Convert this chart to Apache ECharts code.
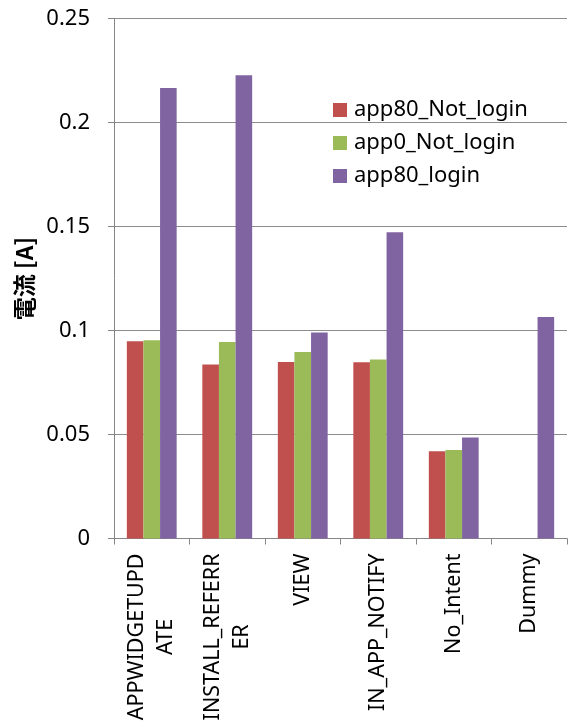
<!DOCTYPE html>
<html><head><meta charset="utf-8">
<script src="https://cdn.jsdelivr.net/npm/echarts@6/dist/echarts.min.js"></script>
<style>html,body{margin:0;padding:0;background:#fff}#c{width:568px;height:727px}</style>
</head><body><div id="c"></div>
<script>
const categories = ['APPWIDGETUPD\nATE', 'INSTALL_REFERR\nER', 'VIEW', 'IN_APP_NOTIFY', 'No_Intent', 'Dummy'];
const seriesNames = ['app80_Not_login', 'app0_Not_login', 'app80_login'];
const app80NotLogin = [0.0948, 0.0837, 0.0849, 0.0847, 0.0419, null];
const app0NotLogin = [0.0953, 0.0945, 0.0897, 0.0860, 0.0425, null];
const app80Login = [0.2166, 0.2227, 0.0990, 0.1472, 0.0485, 0.1065];
const yTicks = { min: 0, max: 0.25, interval: 0.05 };
const colors = ['#C0504D', '#9BBB59', '#8064A2'];

const font = 'Noto Sans';
const chart = echarts.init(document.getElementById('c'), null, { renderer: 'canvas' });
const mk = (name, data, color) => ({
  name, type: 'bar', data, barGap: '0%', barCategoryGap: '34%',
  itemStyle: { color }, emphasis: { disabled: true }
});
chart.setOption({
  animation: false,
  color: colors,
  grid: { left: 114, right: 1, top: 18.5, bottom: 188.5, containLabel: false },
  legend: {
    orient: 'vertical', left: 328, top: 94, itemWidth: 14, itemHeight: 14, itemGap: 11,
    icon: 'rect',
    textStyle: { fontFamily: font, fontSize: 22, lineHeight: 22, color: '#000', padding: [0, 0, 0, 2] },
    data: seriesNames
  },
  xAxis: {
    type: 'category', data: categories,
    axisLine: { lineStyle: { color: '#868686', width: 1 } },
    axisTick: { show: true, length: 6, lineStyle: { color: '#868686' } },
    axisLabel: {
      rotate: 90, margin: 15, interval: 0, color: '#000',
      formatter: v => v.split('\n').map(s => '{c|' + s + '}').join('\n'),
      rich: { c: { align: 'center', fontFamily: font, fontSize: 21.5, lineHeight: 29, color: '#000' } }
    }
  },
  yAxis: {
    type: 'value', min: yTicks.min, max: yTicks.max, interval: yTicks.interval,
    name: '電流 [A]', nameLocation: 'middle', nameGap: 72, nameRotate: 90,
    nameTextStyle: { fontFamily: 'Noto Sans CJK JP', fontWeight: 'bold', fontSize: 23, color: '#000' },
    axisLine: { show: true, lineStyle: { color: '#868686' } },
    axisTick: { show: true, length: 6, lineStyle: { color: '#868686' } },
    splitLine: { lineStyle: { color: '#8c8c8c', width: 1 } },
    axisLabel: { margin: 24, color: '#000', fontFamily: font, fontSize: 22,
      formatter: v => String(+v.toFixed(2)) }
  },
  series: [mk(seriesNames[0], app80NotLogin, colors[0]), mk(seriesNames[1], app0NotLogin, colors[1]), mk(seriesNames[2], app80Login, colors[2])]
});
</script></body></html>
